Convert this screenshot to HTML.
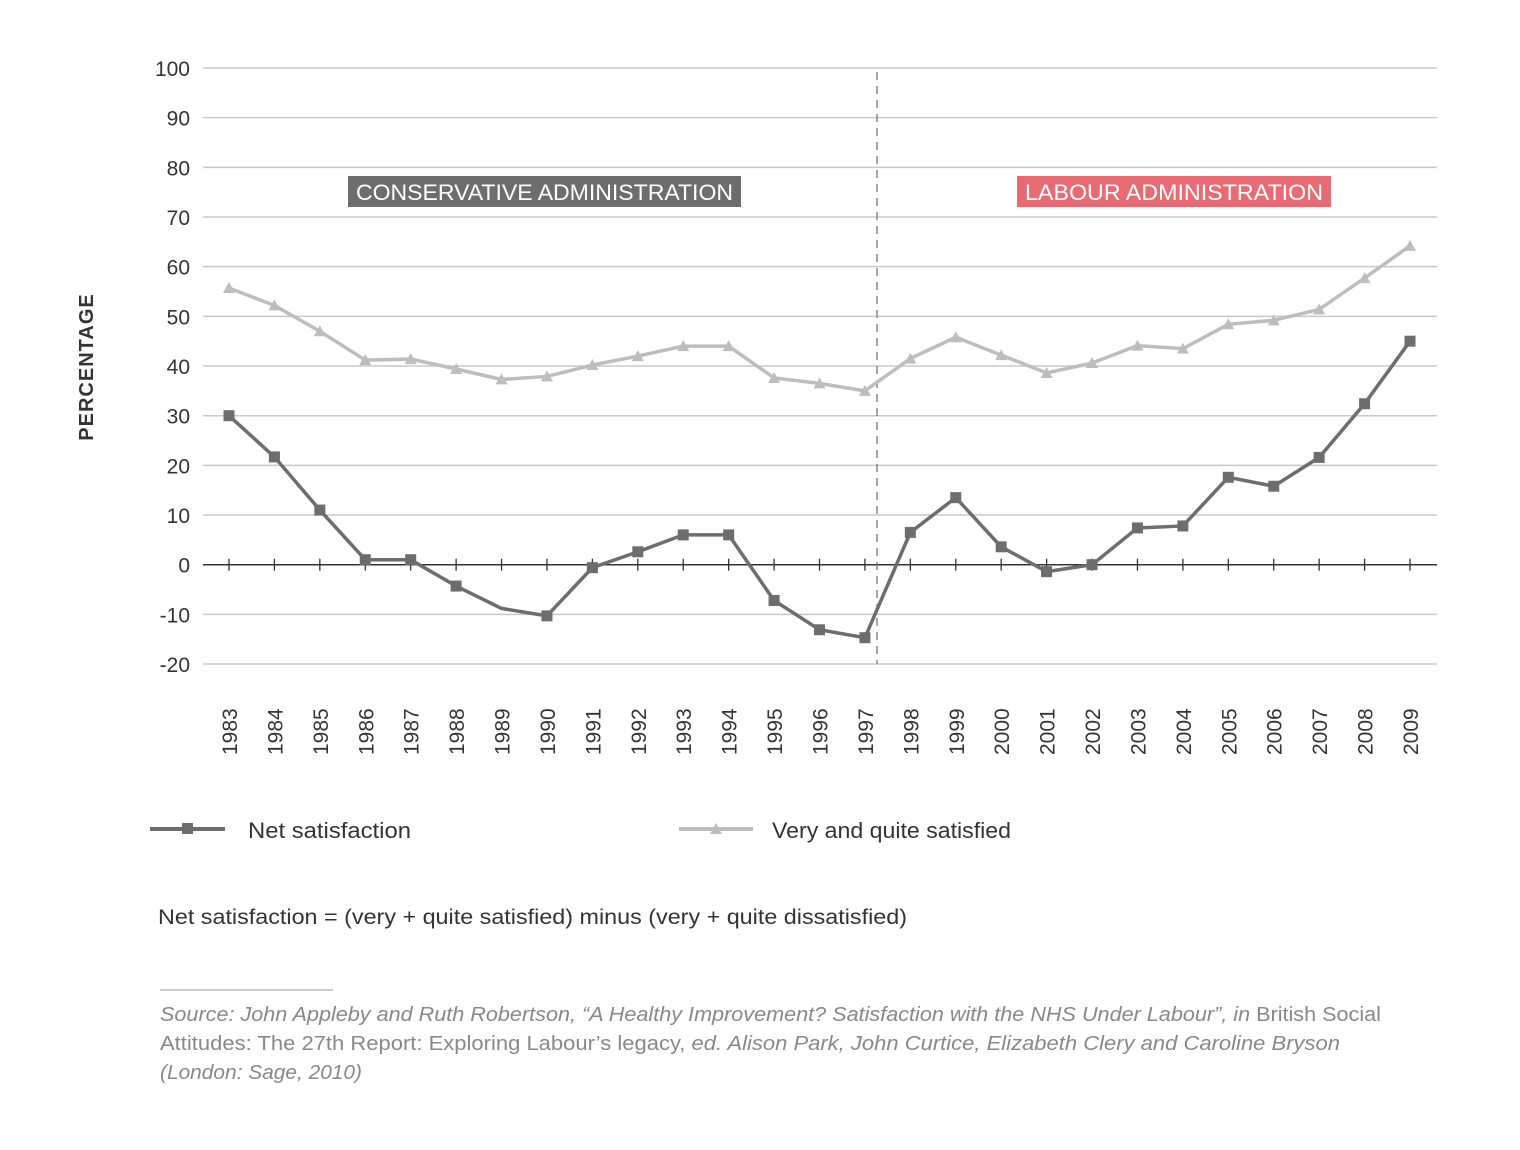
<!DOCTYPE html>
<html><head><meta charset="utf-8">
<style>
body{margin:0;background:#fff;width:1520px;height:1145px;overflow:hidden;font-family:"Liberation Sans",sans-serif;}
svg text{font-family:"Liberation Sans",sans-serif;}
</style></head>
<body>
<svg id="chart" width="1520" height="1145" xmlns="http://www.w3.org/2000/svg">
<g id="grid"></g>
<g id="yticks"></g>
<g id="xaxis"></g>
<line x1="877" y1="72" x2="877" y2="664" stroke="#777" stroke-width="1.3" stroke-dasharray="8,6"/>
<rect x="348" y="176" width="393" height="31" fill="#6d6d6d"/>
<text x="356" y="200" textLength="377" lengthAdjust="spacingAndGlyphs" fill="#fff" font-size="22">CONSERVATIVE ADMINISTRATION</text>
<rect x="1017" y="176" width="314" height="31" fill="#e86b73"/>
<text x="1025" y="200" textLength="298" lengthAdjust="spacingAndGlyphs" fill="#fff" font-size="22">LABOUR ADMINISTRATION</text>
<text transform="translate(93,367) rotate(-90)" text-anchor="middle" font-size="20" font-weight="bold" fill="#333" letter-spacing="1">PERCENTAGE</text>
<g id="series"></g>
<g>
<line x1="150" y1="829" x2="225" y2="829" stroke="#6d6d6d" stroke-width="4"/>
<rect x="182" y="823" width="11" height="11" fill="#6d6d6d"/>
<text x="248" y="838" font-size="22" fill="#333" textLength="163" lengthAdjust="spacingAndGlyphs">Net satisfaction</text>
</g>
<g>
<line x1="679" y1="829" x2="753" y2="829" stroke="#bdbdbd" stroke-width="4"/>
<polygon points="716,823 722,834 710,834" fill="#bdbdbd"/>
<text x="772" y="838" font-size="22" fill="#333" textLength="239" lengthAdjust="spacingAndGlyphs">Very and quite satisfied</text>
</g>
<text x="158" y="924" font-size="21" fill="#333" textLength="749" lengthAdjust="spacingAndGlyphs">Net satisfaction = (very + quite satisfied) minus (very + quite dissatisfied)</text>
<line x1="160" y1="990" x2="333" y2="990" stroke="#bbb" stroke-width="1.5"/>
<g font-size="20" fill="#888">
<text x="160" y="1021" textLength="1221" lengthAdjust="spacingAndGlyphs"><tspan font-style="italic">Source: John Appleby and Ruth Robertson, “A Healthy Improvement? Satisfaction with the NHS Under Labour”, in </tspan>British Social</text>
<text x="160" y="1050" textLength="1180" lengthAdjust="spacingAndGlyphs">Attitudes: The 27th Report: Exploring Labour’s legacy, <tspan font-style="italic">ed. Alison Park, John Curtice, Elizabeth Clery and Caroline Bryson</tspan></text>
<text x="160" y="1079" font-style="italic" textLength="202" lengthAdjust="spacingAndGlyphs">(London: Sage, 2010)</text>
</g>
</svg>
<script>
const years=[1983,1984,1985,1986,1987,1988,1989,1990,1991,1992,1993,1994,1995,1996,1997,1998,1999,2000,2001,2002,2003,2004,2005,2006,2007,2008,2009];
const netSatisfaction=[30,21.7,11,1,1,-4.3,-8.8,-10.3,-0.6,2.6,6,6,-7.2,-13.1,-14.7,6.5,13.5,3.6,-1.4,0,7.4,7.8,17.6,15.8,21.6,32.4,45];
const verySatisfied=[55.7,52.2,47,41.2,41.4,39.4,37.3,37.9,40.2,42,44,44,37.6,36.5,35,41.5,45.8,42.2,38.6,40.6,44.1,43.5,48.4,49.2,51.4,57.7,64.2];
const yTicks=[100,90,80,70,60,50,40,30,20,10,0,-10,-20];
const NS='http://www.w3.org/2000/svg';
function y(v){return 564.7-v*4.967;}
function x(i){return 229+i*(1410-229)/(years.length-1);}
function mk(tag,attrs,parent){const e=document.createElementNS(NS,tag);for(const k in attrs)e.setAttribute(k,attrs[k]);parent.appendChild(e);return e;}
const grid=document.getElementById('grid'),yt=document.getElementById('yticks'),xa=document.getElementById('xaxis'),ser=document.getElementById('series');
yTicks.forEach(v=>{
 if(v!==0){const l=mk('line',{x1:203,x2:1437,y1:y(v),y2:y(v),stroke:'#c8c8c8','stroke-width':1.5},grid);
 
 }
 const t=mk('text',{x:190,y:y(v)+8,'text-anchor':'end','font-size':21,fill:'#333'},yt);t.textContent=v;
 
 
});
const zl=mk('line',{x1:203,x2:1437,y1:y(0),y2:y(0),stroke:'#333','stroke-width':1.5},xa);


years.forEach((yr,i)=>{
 const tk=mk('line',{x1:x(i),x2:x(i),y1:y(0)-6,y2:y(0)+6,stroke:'#333','stroke-width':1.3},xa);
 
 
 const t=mk('text',{transform:`translate(${x(i)+8},755) rotate(-90)`,'font-size':21,fill:'#333'},xa);t.textContent=yr;
 
 
});
const lv=mk('polyline',{points:verySatisfied.map((v,i)=>x(i)+','+y(v)).join(' '),fill:'none',stroke:'#bdbdbd','stroke-width':3.5},ser);


verySatisfied.forEach((v,i)=>{const p=mk('polygon',{points:`${x(i)},${y(v)-6} ${x(i)+6},${y(v)+5} ${x(i)-6},${y(v)+5}`,fill:'#bdbdbd'},ser);
 
 });
const ln=mk('polyline',{points:netSatisfaction.map((v,i)=>x(i)+','+y(v)).join(' '),fill:'none',stroke:'#6d6d6d','stroke-width':3.5},ser);


netSatisfaction.forEach((v,i)=>{if(years[i]===1989)return;const r=mk('rect',{x:x(i)-5.5,y:y(v)-5.5,width:11,height:11,fill:'#6d6d6d'},ser);
 
 });
</script>
</body></html>
